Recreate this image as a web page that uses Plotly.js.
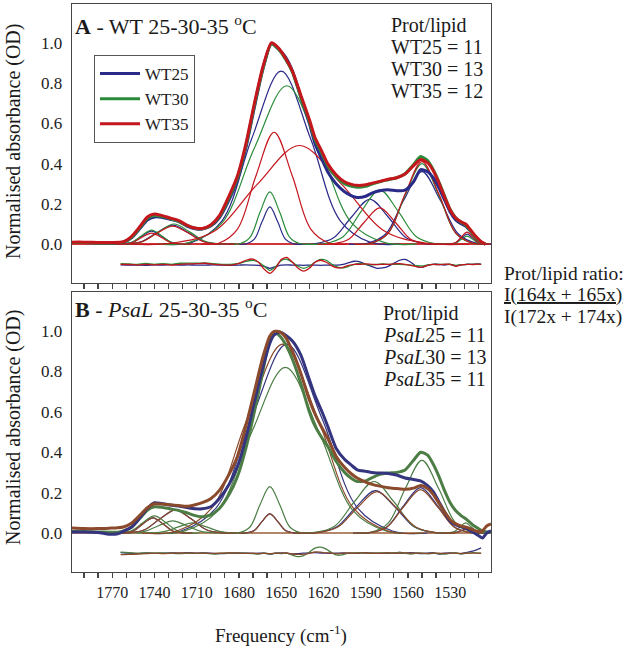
<!DOCTYPE html>
<html><head><meta charset="utf-8">
<script src="https://cdn.plot.ly/plotly-3.0.1.min.js"></script>
<style>html,body{margin:0;padding:0;background:#fff}#plot{width:625px;height:648px}
#plot svg text{font-family:"Liberation Serif",serif !important}</style>
</head><body><div id="plot"></div>
<script>
// ---------- Panel A (WT) totals ----------
const freqA = [1800,1790,1780,1770,1762,1756,1750,1745,1740,1735,1729,1723,1717,1711,1706,1700,1694,1687,1681,1675,1669,1663,1657,1652,1647,1642,1636,1630,1626,1621,1617,1611,1605,1600,1596,1590,1586,1580,1574,1568,1562,1556,1551,1546,1542,1538,1534,1530,1526,1522,1519,1516,1512,1508,1505];
const wt25 = [.008,.008,.006,.006,.01,.033,.08,.12,.135,.134,.124,.113,.09,.077,.075,.09,.13,.22,.32,.48,.68,.87,.995,.97,.93,.86,.73,.6,.5,.42,.36,.3,.26,.24,.232,.238,.252,.265,.27,.265,.268,.31,.37,.36,.33,.28,.22,.16,.12,.1,.09,.068,.035,.01,0];
const wt30 = [.008,.008,.006,.006,.01,.035,.085,.128,.142,.138,.127,.115,.093,.079,.077,.093,.135,.23,.33,.49,.69,.87,.995,.97,.92,.855,.73,.61,.52,.45,.39,.335,.3,.287,.283,.287,.297,.31,.32,.33,.35,.395,.435,.415,.37,.31,.24,.172,.13,.108,.095,.07,.035,.01,0];
const wt35 = [.01,.01,.008,.008,.012,.04,.09,.135,.15,.143,.13,.118,.095,.08,.078,.095,.14,.24,.34,.5,.7,.88,1.0,.975,.925,.86,.74,.62,.53,.46,.4,.345,.31,.297,.292,.295,.302,.312,.322,.33,.348,.39,.42,.405,.365,.305,.235,.17,.13,.11,.1,.075,.04,.012,0];

// ---------- Panel A component bands ----------
const wt25BandX = [
 [1770,1763,1756,1749,1742,1735,1728,1721,1714],
 [1771,1760,1749,1738,1727,1716,1705,1694,1683],
 [1680,1674.5,1669,1663.5,1658,1652.5,1647,1641.5,1636],
 [1734,1713,1692,1671,1650,1629,1608,1587,1566],
 [1639,1626,1613,1600,1587,1574,1561,1548,1535],
 [1602,1589,1576,1563,1550,1537,1524,1511,1498],
 [1534,1530,1526,1522,1518,1514,1510,1506,1502]];
const wt25BandY = [
 [0,.001,.009,.039,.065,.039,.009,.001,0],
 [0,.001,.013,.058,.095,.058,.013,.001,0],
 [0,.002,.025,.112,.185,.112,.025,.002,0],
 [0,.01,.116,.522,.86,.522,.116,.01,0],
 [0,.002,.03,.135,.223,.135,.03,.002,0],
 [0,.004,.049,.218,.36,.218,.049,.004,0],
 [0,.001,.007,.03,.05,.03,.007,.001,0]];
const wt30BandX = [
 [1770,1763,1756,1749,1742,1735,1728,1721,1714],
 [1770,1759,1748,1737,1726,1715,1704,1693,1682],
 [1686,1679,1672,1665,1658,1651,1644,1637,1630],
 [1738,1715,1692,1669,1646,1623,1600,1577,1554],
 [1632,1619,1606,1593,1580,1567,1554,1541,1528],
 [1598,1586,1574,1562,1550,1538,1526,1514,1502],
 [1534,1530,1526,1522,1518,1514,1510,1506,1502]];
const wt30BandY = [
 [0,.001,.009,.042,.07,.042,.009,.001,0],
 [0,.001,.014,.061,.10,.061,.014,.001,0],
 [0,.003,.035,.158,.26,.158,.035,.003,0],
 [0,.009,.106,.478,.787,.478,.106,.009,0],
 [0,.003,.037,.164,.27,.164,.037,.003,0],
 [0,.004,.054,.243,.40,.243,.054,.004,0],
 [0,0,.005,.024,.04,.024,.005,0,0]];
const wt35BandX = [
 [1770,1763,1756,1749,1742,1735,1728,1721,1714],
 [1771,1760,1749,1738,1727,1716,1705,1694,1683],
 [1707,1694,1681,1668,1655,1642,1629,1616,1603],
 [1757,1727,1697,1667,1637,1607,1577,1547,1517],
 [1624,1613,1602,1591,1580,1569,1558,1547,1536],
 [1598,1586,1574,1562,1550,1538,1526,1514,1502],
 [1534,1530,1526,1522,1518,1514,1510,1506,1502]];
const wt35BandY = [
 [0,.001,.007,.033,.055,.033,.007,.001,0],
 [0,.001,.012,.055,.09,.055,.012,.001,0],
 [0,.006,.075,.337,.556,.337,.075,.006,0],
 [0,.005,.066,.297,.49,.297,.066,.005,0],
 [0,.002,.024,.109,.18,.109,.024,.002,0],
 [0,.005,.055,.249,.41,.249,.055,.005,0],
 [0,.001,.008,.036,.06,.036,.008,.001,0]];

// ---------- Residuals (both panels) ----------
const residFreq = [1764,1758,1752,1746,1740,1734,1728,1722,1716,1710,1704,1698,1692,1686,1680,1675,1670,1666,1662,1658,1654,1650,1646,1642,1638,1634,1630,1626,1622,1618,1614,1610,1606,1602,1598,1594,1590,1586,1582,1578,1574,1570,1566,1562,1558,1554,1550,1546,1542,1538,1534,1530,1526,1522,1518,1514,1510,1508];
const resWT25 = [-.103,-.104,-.104,-.105,-.103,-.104,-.102,-.104,-.103,-.104,-.104,-.103,-.104,-.105,-.104,-.103,-.104,-.105,-.11,-.12,-.112,-.104,-.103,-.104,-.104,-.105,-.104,-.104,-.105,-.104,-.104,-.104,-.1,-.092,-.085,-.088,-.1,-.11,-.12,-.118,-.11,-.095,-.08,-.076,-.09,-.11,-.115,-.105,-.1,-.101,-.104,-.1,-.108,-.102,-.1,-.1,-.098,-.1];
const resWT30 = [-.097,-.098,-.1,-.096,-.1,-.097,-.1,-.095,-.094,-.095,-.093,-.097,-.1,-.1,-.095,-.086,-.08,-.09,-.11,-.13,-.112,-.082,-.075,-.09,-.11,-.12,-.11,-.09,-.076,-.08,-.1,-.114,-.118,-.11,-.1,-.096,-.1,-.103,-.1,-.098,-.1,-.1,-.1,-.102,-.104,-.107,-.108,-.103,-.1,-.1,-.101,-.1,-.105,-.102,-.1,-.1,-.099,-.1];
const resWT35 = [-.1,-.101,-.104,-.1,-.103,-.1,-.104,-.1,-.098,-.097,-.095,-.1,-.103,-.104,-.095,-.08,-.074,-.09,-.125,-.145,-.12,-.076,-.066,-.09,-.12,-.134,-.12,-.09,-.08,-.09,-.108,-.118,-.115,-.105,-.1,-.1,-.098,-.1,-.102,-.1,-.1,-.098,-.097,-.1,-.105,-.112,-.115,-.105,-.1,-.102,-.1,-.1,-.11,-.103,-.1,-.101,-.099,-.1];
const resP25 = [-.097,-.1,-.102,-.099,-.101,-.1,-.098,-.1,-.097,-.1,-.098,-.101,-.102,-.1,-.099,-.1,-.101,-.1,-.1,-.104,-.1,-.098,-.1,-.104,-.102,-.1,-.098,-.097,-.099,-.1,-.101,-.1,-.099,-.1,-.1,-.099,-.097,-.1,-.1,-.101,-.1,-.098,-.1,-.1,-.097,-.1,-.102,-.1,-.097,-.104,-.1,-.098,-.1,-.102,-.096,-.09,-.08,-.074];
const resP30 = [-.095,-.097,-.1,-.098,-.1,-.098,-.1,-.102,-.1,-.101,-.1,-.104,-.1,-.098,-.1,-.1,-.102,-.104,-.1,-.105,-.1,-.102,-.1,-.11,-.117,-.112,-.095,-.075,-.07,-.08,-.098,-.11,-.107,-.1,-.1,-.098,-.099,-.1,-.1,-.098,-.097,-.1,-.095,-.1,-.104,-.1,-.1,-.103,-.1,-.102,-.105,-.1,-.098,-.104,-.1,-.097,-.1,-.1];
const resP35 = [-.107,-.106,-.104,-.102,-.1,-.102,-.1,-.099,-.1,-.1,-.1,-.101,-.1,-.099,-.1,-.101,-.1,-.102,-.1,-.102,-.1,-.1,-.099,-.104,-.106,-.105,-.1,-.094,-.095,-.098,-.1,-.102,-.1,-.099,-.1,-.1,-.099,-.1,-.101,-.1,-.099,-.1,-.1,-.098,-.1,-.1,-.1,-.101,-.1,-.1,-.101,-.1,-.1,-.101,-.1,-.1,-.1,-.101];

// ---------- Panel B (PsaL) totals ----------
const freqB = [1800,1790,1780,1772,1766,1762,1756,1750,1745,1740,1735,1729,1723,1717,1711,1706,1700,1694,1687,1681,1675,1669,1663,1658,1655,1651,1647,1642,1636,1630,1626,1621,1617,1611,1605,1600,1596,1590,1586,1580,1574,1568,1562,1556,1551,1546,1542,1538,1534,1530,1526,1522,1518,1514,1510,1507,1504,1501];
const psal25 = [.005,.005,.003,-.006,-.004,.008,.03,.078,.122,.15,.146,.139,.133,.126,.12,.12,.13,.17,.24,.33,.47,.65,.82,.94,.98,.995,.98,.95,.88,.76,.68,.6,.53,.42,.365,.335,.313,.305,.3,.297,.295,.287,.272,.265,.258,.235,.205,.155,.105,.058,.04,.03,.022,.005,-.012,-.025,0,.01];
const psal30 = [.008,.008,.005,.004,.004,.01,.03,.075,.113,.13,.128,.12,.112,.1,.086,.08,.09,.12,.19,.28,.42,.6,.8,.96,.995,.975,.935,.86,.74,.6,.53,.47,.43,.355,.3,.27,.255,.258,.272,.29,.297,.3,.312,.36,.4,.385,.34,.28,.21,.15,.11,.085,.065,.04,.022,.01,.005,.005];
const psal35 = [.025,.022,.022,.024,.026,.03,.05,.09,.125,.145,.143,.14,.136,.132,.14,.15,.17,.21,.29,.38,.53,.7,.87,.975,.998,.995,.97,.9,.79,.66,.59,.52,.47,.38,.325,.292,.272,.252,.242,.232,.224,.22,.216,.222,.235,.22,.19,.148,.105,.066,.045,.034,.028,.016,.007,.012,.035,.045];

// ---------- Panel B component bands ----------
const psal25BandX = [
 [1769,1762,1755,1748,1741,1734,1727,1720,1713],
 [1769,1758,1747,1736,1725,1714,1703,1692,1681],
 [1680,1674.5,1669,1663.5,1658,1652.5,1647,1641.5,1636],
 [1746,1721,1696,1671,1646,1621,1596,1571,1546],
 [1639,1625,1611,1597,1583,1569,1555,1541,1527],
 [1599,1587,1575,1563,1551,1539,1527,1515,1503],
 [1534,1530,1526,1522,1518,1514,1510,1506,1502]];
const psal25BandY = [
 [0,.001,.01,.046,.075,.046,.01,.001,0],
 [0,.001,.016,.07,.115,.07,.016,.001,0],
 [0,.001,.013,.058,.095,.058,.013,.001,0],
 [0,.01,.126,.567,.935,.567,.126,.01,0],
 [0,.002,.028,.127,.21,.127,.028,.002,0],
 [0,.002,.03,.136,.225,.136,.03,.002,0],
 [0,0,.003,.012,.02,.012,.003,0,0]];
const psal30BandX = [
 [1772,1764,1756,1748,1740,1732,1724,1716,1708],
 [1767,1757,1747,1737,1727,1717,1707,1697,1687],
 [1753,1743,1733,1723,1713,1703,1693,1683,1673],
 [1686,1679,1672,1665,1658,1651,1644,1637,1630],
 [1743,1719,1695,1671,1647,1623,1599,1575,1551],
 [1640,1626,1612,1598,1584,1570,1556,1542,1528],
 [1598,1586,1574,1562,1550,1538,1526,1514,1502],
 [1535,1531,1527,1523,1519,1515,1511,1507,1503]];
const psal30BandY = [
 [0,.001,.012,.052,.085,.052,.012,.001,0],
 [0,.001,.008,.036,.06,.036,.008,.001,0],
 [0,.001,.007,.03,.05,.03,.007,.001,0],
 [0,.003,.031,.14,.23,.14,.031,.003,0],
 [0,.009,.111,.498,.82,.498,.111,.009,0],
 [0,.003,.034,.155,.255,.155,.034,.003,0],
 [0,.004,.049,.218,.36,.218,.049,.004,0],
 [0,.001,.007,.03,.05,.03,.007,.001,0]];
const psal35BandX = [
 [1769,1762,1755,1748,1741,1734,1727,1720,1713],
 [1769,1758,1747,1736,1725,1714,1703,1692,1681],
 [1680,1674.5,1669,1663.5,1658,1652.5,1647,1641.5,1636],
 [1749,1724,1699,1674,1649,1624,1599,1574,1549],
 [1638,1624,1610,1596,1582,1568,1554,1540,1526],
 [1599,1587,1575,1563,1551,1539,1527,1515,1503],
 [1534,1530,1526,1522,1518,1514,1510,1506,1502]];
const psal35BandY = [
 [0,.001,.01,.046,.075,.046,.01,.001,0],
 [0,.001,.016,.07,.115,.07,.016,.001,0],
 [0,.001,.013,.058,.095,.058,.013,.001,0],
 [0,.01,.126,.567,.935,.567,.126,.01,0],
 [0,.002,.028,.124,.205,.124,.028,.002,0],
 [0,.002,.029,.13,.215,.13,.029,.002,0],
 [0,0,.003,.012,.02,.012,.003,0,0]];

const seriesNamesA = ['WT25','WT30','WT35'];
const yTickVals = [0,0.2,0.4,0.6,0.8,1.0];

// colours
const cA = {b:'#2a2a88', g:'#2a8c3a', r:'#c4161d'};
const cB = {b:'#35357f', g:'#4b7d44', o:'#8b4a2b'};

const traces = [];
function bands(xs, ys, color, xa, ya){
  xs.forEach((x,i)=>traces.push({x:x, y:ys[i], xaxis:xa, yaxis:ya, mode:'lines',
    line:{color:color, width:1.2, shape:'spline', smoothing:1}, showlegend:false, hoverinfo:'skip'}));
}
function line(x, y, color, w, xa, ya, name, leg){
  traces.push({x:x, y:y, xaxis:xa, yaxis:ya, mode:'lines', name:name||'',
    line:{color:color, width:w, shape:'spline', smoothing:0.6}, showlegend:!!leg, hoverinfo:'skip'});
}
// Panel A
bands(wt25BandX, wt25BandY, cA.b, 'x2','y2');
bands(wt30BandX, wt30BandY, cA.g, 'x2','y2');
bands(wt35BandX, wt35BandY, cA.r, 'x2','y2');
line(residFreq, resWT25, cA.b, 1.3, 'x2','y2');
line(residFreq, resWT30, cA.g, 1.3, 'x2','y2');
line(residFreq, resWT35, cA.r, 1.3, 'x2','y2');
line(freqA, wt25, cA.b, 3, 'x2','y2', seriesNamesA[0], true);
line(freqA, wt30, cA.g, 3, 'x2','y2', seriesNamesA[1], true);
line(freqA, wt35, cA.r, 3, 'x2','y2', seriesNamesA[2], true);
// Panel B
bands(psal25BandX, psal25BandY, cB.b, 'x','y');
bands(psal30BandX, psal30BandY, cB.g, 'x','y');
bands(psal35BandX, psal35BandY, cB.o, 'x','y');
line(residFreq, resP25, cB.b, 1.3, 'x','y');
line(residFreq, resP30, cB.g, 1.3, 'x','y');
line(residFreq, resP35, cB.o, 1.3, 'x','y');
line(freqB, psal30, cB.g, 3, 'x','y');
line(freqB, psal25, cB.b, 3, 'x','y');
line(freqB, psal35, cB.o, 3, 'x','y');

const F = 'Liberation Serif, serif';
const frame = '#454545';
const xBase = {range:[1798.5,1501], showline:true, mirror:true, linecolor:frame, linewidth:1.3,
  ticks:'outside', tickmode:'linear', tick0:1530, dtick:30, ticklen:5, tickcolor:frame, tickwidth:1.2,
  minor:{dtick:10, tick0:1500, ticks:'outside', ticklen:5, tickcolor:frame, tickwidth:1.2, showgrid:false},
  showgrid:false, zeroline:false, tickfont:{family:F, size:16, color:'#222'}, fixedrange:true};
const yBase = {range:[-0.193,1.193], showline:true, mirror:true, linecolor:frame, linewidth:1.3,
  ticks:'', tickmode:'array', tickvals:yTickVals, tickformat:'.1f', ticklabelstandoff:5,
  showgrid:false, zeroline:true, zerolinewidth:2, tickfont:{family:F, size:17, color:'#222'}, fixedrange:true};

const ann = [];
function txt(x,y,t,size,opts){ ann.push(Object.assign({xref:'paper', yref:'paper', x:x, y:y, text:t, showarrow:false,
  xanchor:'left', yanchor:'middle', align:'left', font:{family:F, size:size, color:'#1a1a1a'}}, opts||{})); }
// pixel helpers (plot area: left 72, width 419, bottom 572, height 568)
const px = v => (v-72)/419, py = v => (572-v)/568;
txt(px(73), py(25), '<b>A</b> - WT 25-30-35 <sup>o</sup>C', 22);
txt(px(73), py(308), '<b>B</b> - <i>PsaL</i> 25-30-35 <sup>o</sup>C', 22);
const protA = ['Prot/lipid','WT25 = 11','WT30 = 13','WT35 = 12'];
const protB = ['Prot/lipid','<i>PsaL</i>25 = 11','<i>PsaL</i>30 = 13','<i>PsaL</i>35 = 11'];
protA.forEach((t,i)=>txt(px(389), py(25+22*i), t, 20));
protB.forEach((t,i)=>txt(px(381), py(313+22*i), t, 20));
txt(px(502), py(273), 'Prot/lipid ratio:', 19.5);
txt(px(502), py(295), '<span style="text-decoration:underline">I(164x + 165x)</span>', 19.5);
txt(px(502), py(317), 'I(172x + 174x)', 19.5);
txt(px(13), py(142), 'Normalised absorbance (OD)', 20, {textangle:-90, xanchor:'center'});
txt(px(13), py(428), 'Normalised absorbance (OD)', 20, {textangle:-90, xanchor:'center'});
txt(px(281), py(634), 'Frequency (cm<sup>-1</sup>)', 19, {xanchor:'center'});

const layout = {
  width:625, height:648, margin:{l:72, r:134, t:4, b:76}, paper_bgcolor:'#fff', plot_bgcolor:'#fff',
  font:{family:F, color:'#222'},
  xaxis:Object.assign({}, xBase, {domain:[0,1], anchor:'y'}),
  xaxis2:Object.assign({}, xBase, {domain:[0,1], anchor:'y2', showticklabels:false}),
  yaxis:Object.assign({}, yBase, {domain:[0,0.493], anchor:'x', zerolinecolor:'#b5876a'}),
  yaxis2:Object.assign({}, yBase, {domain:[0.5088,1], anchor:'x2', zerolinecolor:'#d0353a'}),
  showlegend:true,
  legend:{x:px(94), y:py(55), xanchor:'left', yanchor:'top', bgcolor:'#fff', bordercolor:'#555', borderwidth:1,
    font:{family:F, size:17, color:'#222'}, itemwidth:40, tracegroupgap:0},
  annotations:ann
};
Plotly.newPlot('plot', traces, layout, {staticPlot:true, displayModeBar:false});
</script></body></html>
